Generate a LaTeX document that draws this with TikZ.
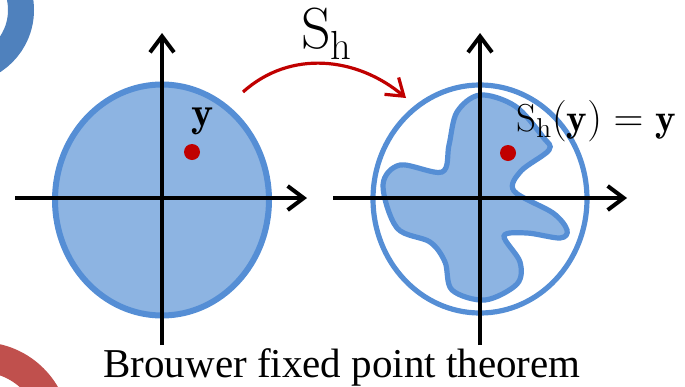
\documentclass[tikz,border=0pt]{standalone}
\usepackage{amsmath}
\usepackage{fontspec}
\usepackage{xcolor}
\usepackage{tikz}
\usetikzlibrary{arrows.meta, positioning, calc}
\newfontfamily\captionfont{Liberation Serif}
\definecolor{diskfill}{HTML}{8DB4E2}
\definecolor{diskline}{HTML}{558ED5}
\definecolor{ptred}{HTML}{C00000}
\definecolor{ringblue}{HTML}{4F81BD}
\definecolor{ringred}{HTML}{C0504D}
\tikzset{
  disk/.style  = {fill=diskfill, draw=diskline, line width=3pt},
  ball/.style  = {draw=diskline, line width=2.6pt},
  axis/.style  = {line width=2pt, -{Straight Barb[length=8pt,width=12pt,line width=2pt]}},
  maparrow/.style = {ptred, line width=1.6pt, -{Straight Barb[length=8pt,width=11pt,line width=1.6pt]}},
  fixpt/.style = {circle, fill=ptred, inner sep=0pt, minimum size=8pt},
  ring/.style  = {line width=13pt},
}

\begin{document}
\begin{tikzpicture}[x=0.5pt, y=-0.5pt]
  \clip (0,0) rectangle (685,386);

  % decoration rings
  \draw[ring, ringblue] (-40,10) circle [radius=30.5pt];
  \draw[ring, line width=15pt, ringred] (-20,432) circle [radius=37.5pt];

  % left disk
  \draw[disk] (162,200) ellipse [x radius=53.5pt, y radius=57.75pt];
  \coordinate (lw) at (15,198);
  \coordinate (le) at (307,198);
  \coordinate (ls) at (162,345);
  \coordinate (ln) at (162,33);
  \draw[axis] (lw) -- (le);
  \draw[axis] (ls) -- (ln);
  \node[fixpt] (y1) at (192,152) {};
  \node[font=\fontsize{21}{24}\selectfont] (ylab) at (203,121) {$\mathbf{y}$};

  % right disk with the image of the map
  \draw[disk, line width=2.6pt] plot[smooth cycle, tension=0.55] coordinates {
    (480,95) (515,106) (543,137) (549,150) (521,171) (514,191) (553,213)
    (567,230) (560,238) (527,233) (504,236) (520,262) (517,284) (485,300)
    (452,290) (445,262) (430,242) (397,228) (383,185) (400,165) (442,172)
    (449,145) (457,112)};
  \draw[ball] (480,199) ellipse [x radius=53.5pt, y radius=57pt];
  \coordinate (rw) at (333,198);
  \coordinate (re) at (627,198);
  \coordinate (rs) at (480,345);
  \coordinate (rn) at (480,33);
  \draw[axis] (rw) -- (re);
  \draw[axis] (rs) -- (rn);
  \node[fixpt] (y2) at (508,153) {};
  \node[font=\fontsize{19.5}{23}\selectfont] (fixlab) at (596,121) {$\mathrm{S_h}(\mathbf{y})=\mathbf{y}$};

  % the map
  \coordinate (from) at (243,92);
  \coordinate (to) at (406,98);
  \draw[maparrow] (from) to[out=42, in=140] (to);
  \node[font=\fontsize{29}{34}\selectfont] (map) at (327,34) {$\mathrm{S_h}$};

  \node[font=\captionfont\fontsize{20.5}{24}\selectfont, anchor=base] (thm) at (342,377) {Brouwer fixed point theorem};
\end{tikzpicture}
\end{document}
